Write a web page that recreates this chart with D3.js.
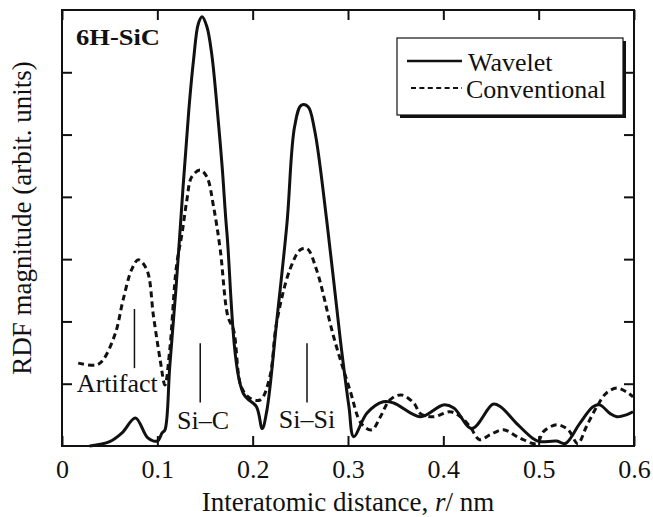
<!DOCTYPE html>
<html>
<head>
<meta charset="utf-8">
<script src="https://cdn.jsdelivr.net/npm/d3@7"></script>
<style>
  body { margin: 0; background: #fff; }
  text { font-family: "Liberation Serif", "Times New Roman", serif; fill: #111; }
</style>
</head>
<body>
<div id="chart"></div>
<script>
// Constantes

const width = 653
const height = 517
const margin = { top: 10, bottom: 71, left: 62, right: 19 }

// datos (r en nm, magnitud en unidades arbitrarias)

const rWavelet = [0.029, 0.050, 0.063, 0.077, 0.090, 0.100, 0.105, 0.108, 0.113, 0.120, 0.127, 0.133, 0.138, 0.143, 0.147, 0.152, 0.157, 0.162, 0.168, 0.173, 0.190, 0.204, 0.210, 0.215, 0.225, 0.236, 0.244, 0.251, 0.258, 0.265, 0.278, 0.292, 0.301, 0.306, 0.320, 0.337, 0.348, 0.376, 0.400, 0.411, 0.430, 0.452, 0.460, 0.477, 0.494, 0.501, 0.519, 0.528, 0.543, 0.557, 0.564, 0.575, 0.582, 0.592, 0.599]
const vWavelet = [0.00, 0.07, 0.21, 0.45, 0.13, 0.08, 0.21, 0.26, 1.27, 2.62, 4.16, 5.39, 6.20, 6.78, 6.89, 6.73, 6.30, 5.55, 4.48, 3.42, 0.85, 0.63, 0.28, 0.58, 1.97, 3.58, 5.13, 5.47, 5.45, 5.07, 3.58, 1.70, 0.63, 0.15, 0.53, 0.71, 0.69, 0.47, 0.66, 0.61, 0.28, 0.67, 0.63, 0.36, 0.12, 0.07, 0.08, 0.04, 0.36, 0.63, 0.66, 0.52, 0.47, 0.50, 0.55]

const rConv = [0.017, 0.036, 0.043, 0.056, 0.064, 0.073, 0.080, 0.089, 0.096, 0.103, 0.108, 0.113, 0.120, 0.126, 0.131, 0.136, 0.145, 0.152, 0.159, 0.166, 0.174, 0.180, 0.188, 0.197, 0.208, 0.218, 0.225, 0.239, 0.250, 0.257, 0.267, 0.285, 0.302, 0.314, 0.325, 0.334, 0.344, 0.356, 0.369, 0.376, 0.390, 0.407, 0.418, 0.428, 0.438, 0.449, 0.463, 0.480, 0.498, 0.505, 0.519, 0.531, 0.541, 0.550, 0.561, 0.571, 0.582, 0.592, 0.599]
const vConv = [1.33, 1.30, 1.38, 1.81, 2.34, 2.83, 2.99, 2.83, 2.08, 1.38, 0.98, 1.54, 2.88, 3.42, 3.95, 4.32, 4.43, 4.32, 3.84, 3.15, 2.08, 1.86, 0.95, 0.77, 0.74, 1.11, 1.97, 2.83, 3.15, 3.17, 2.83, 1.75, 0.90, 0.36, 0.26, 0.47, 0.74, 0.82, 0.69, 0.52, 0.47, 0.55, 0.47, 0.31, 0.10, 0.18, 0.26, 0.13, 0.04, 0.23, 0.34, 0.26, 0.04, 0.31, 0.63, 0.85, 0.93, 0.87, 0.79]

const xTicks = [0, 0.1, 0.2, 0.3, 0.4, 0.5, 0.6]
const yTicks = [1, 2, 3, 4, 5, 6]

// anotaciones: texto, posicion r, linea desde/hasta (en unidades del eje y)
const peakLabels = ["Artifact", "Si\u2013C", "Si\u2013Si"]
const peakR = [0.076, 0.145, 0.257]
const lineTop = [2.2, 1.65, 1.65]
const lineBottom = [1.25, 0.7, 0.7]
const labelR = [0.058, 0.148, 0.257]
const labelV = [0.86, 0.28, 0.29]

const seriesNames = ["Wavelet", "Conventional"]

// definición svg y grupos

const svg = d3.select("#chart").append("svg").attr("width", width).attr("height", height)

const x = d3.scaleLinear().domain([0, 0.6]).range([margin.left, width - margin.right])
const y = d3.scaleLinear().domain([0, 7]).range([height - margin.bottom, margin.top])

const axisGroup = svg.append("g").attr("id", "axisGroup")
const tick = 10

// eje inferior con etiquetas
axisGroup.append("g")
    .attr("transform", `translate(0,${y(0)})`)
    .call(d3.axisBottom(x).tickValues(xTicks).tickSizeInner(-tick).tickSizeOuter(0).tickPadding(14)
        .tickFormat(d => d === 0 ? "0" : d3.format(".1f")(d)))
// eje superior
axisGroup.append("g")
    .attr("transform", `translate(0,${y(7)})`)
    .call(d3.axisTop(x).tickValues(xTicks).tickSizeInner(-tick).tickSizeOuter(0).tickFormat(""))
// ejes izquierdo y derecho
axisGroup.append("g")
    .attr("transform", `translate(${x(0)},0)`)
    .call(d3.axisLeft(y).tickValues(yTicks).tickSizeInner(-tick + 0).tickSizeOuter(0).tickFormat(""))
axisGroup.append("g")
    .attr("transform", `translate(${x(0.6)},0)`)
    .call(d3.axisRight(y).tickValues(yTicks).tickSizeInner(-tick).tickSizeOuter(0).tickFormat(""))

axisGroup.selectAll(".domain").remove()
axisGroup.selectAll(".tick line").attr("stroke", "#111").attr("stroke-width", 2)
axisGroup.selectAll(".tick text")
    .style("font-family", "'Liberation Serif', serif")
    .style("font-size", "26px")
    .attr("fill", "#111")

// marco
svg.append("rect")
    .attr("x", x(0)).attr("y", y(7))
    .attr("width", x(0.6) - x(0)).attr("height", y(0) - y(7))
    .attr("fill", "none").attr("stroke", "#111").attr("stroke-width", 2)

// curvas
const line = d3.line()
    .x(d => x(d[0]))
    .y(d => y(d[1]))
    .curve(d3.curveCatmullRom.alpha(0.5))

const wavelet = rWavelet.map((r, i) => [r, vWavelet[i]])
const conv = rConv.map((r, i) => [r, vConv[i]])

const elementGroup = svg.append("g").attr("id", "elementGroup")

elementGroup.append("path")
    .datum(conv)
    .attr("d", line)
    .attr("fill", "none")
    .attr("stroke", "#111")
    .attr("stroke-width", 3)
    .attr("stroke-dasharray", "6,4")

elementGroup.append("path")
    .datum(wavelet)
    .attr("d", line)
    .attr("fill", "none")
    .attr("stroke", "#111")
    .attr("stroke-width", 3)
    .attr("stroke-linejoin", "round")

// anotaciones de picos
const notes = svg.append("g").attr("id", "notes")
notes.selectAll("line").data(peakLabels)
    .join("line")
        .attr("x1", (d, i) => x(peakR[i]))
        .attr("x2", (d, i) => x(peakR[i]))
        .attr("y1", (d, i) => y(lineTop[i]))
        .attr("y2", (d, i) => y(lineBottom[i]))
        .attr("stroke", "#111")
        .attr("stroke-width", 1.5)

notes.selectAll("text").data(peakLabels)
    .join("text")
        .attr("x", (d, i) => x(labelR[i]))
        .attr("y", (d, i) => y(labelV[i]))
        .attr("text-anchor", "middle")
        .style("font-size", "26px")
        .text(d => d)

// título de la muestra
svg.append("text")
    .attr("x", 76)
    .attr("y", 45)
    .style("font-size", "23px")
    .style("font-weight", "bold")
    .attr("textLength", 84)
    .attr("lengthAdjust", "spacingAndGlyphs")
    .text("6H-SiC")

// leyenda
const legend = svg.append("g").attr("id", "legend").attr("transform", "translate(397,38)")
legend.append("rect")
    .attr("x", 3).attr("y", 3).attr("width", 226).attr("height", 77)
    .attr("fill", "#111")
legend.append("rect")
    .attr("x", 0).attr("y", 0).attr("width", 226).attr("height", 77)
    .attr("fill", "#fff").attr("stroke", "#111").attr("stroke-width", 1.2)

const legendRows = legend.selectAll("g.row").data(seriesNames)
    .join("g").attr("class", "row")
    .attr("transform", (d, i) => `translate(0,${23 + i * 27})`)

legendRows.append("line")
    .attr("x1", (d, i) => i === 0 ? 10 : 14)
    .attr("x2", 65)
    .attr("y1", 0).attr("y2", 0)
    .attr("stroke", "#111")
    .attr("stroke-width", (d, i) => i === 0 ? 2.5 : 2)
    .attr("stroke-dasharray", (d, i) => i === 0 ? null : "5,3.4")

legendRows.append("text")
    .attr("x", (d, i) => i === 0 ? 71 : 69)
    .attr("y", 10)
    .style("font-size", "26px")
    .text(d => d)

// títulos de ejes
svg.append("text")
    .attr("x", (x(0) + x(0.6)) / 2)
    .attr("y", 511)
    .attr("text-anchor", "middle")
    .style("font-size", "27px")
    .html("Interatomic distance, <tspan font-style='italic'>r</tspan>/ nm")

svg.append("text")
    .attr("transform", `translate(31,${(y(0) + y(7)) / 2 - 10}) rotate(-90)`)
    .attr("text-anchor", "middle")
    .style("font-size", "27px")
    .text("RDF magnitude (arbit. units)")
</script>
</body>
</html>
